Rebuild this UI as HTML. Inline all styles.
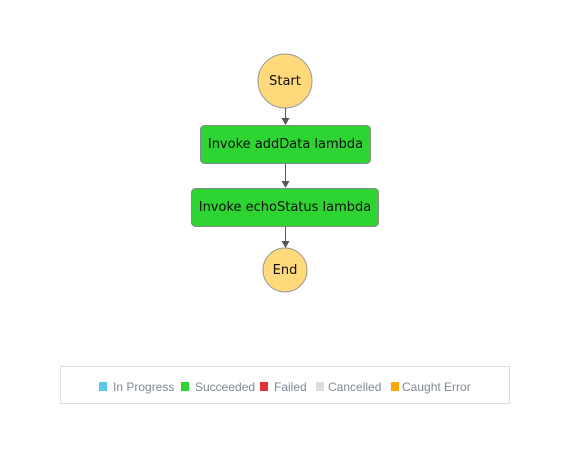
<!DOCTYPE html>
<html><head><meta charset="utf-8"><style>
body{margin:0;width:577px;height:460px;background:#fff;position:relative;overflow:hidden;font-family:"DejaVu Sans","Liberation Sans",sans-serif}
.a{position:absolute}
.t{font-size:13px;color:#111;text-align:center;white-space:nowrap}
.l{position:absolute;color:#7f8a96;top:380px;white-space:nowrap;font-family:"Liberation Sans",sans-serif;font-size:12px}
.s{position:absolute;width:8px;height:9px;top:382px}
</style></head><body>
<svg class="a" style="left:0;top:0" width="577" height="460">
<circle cx="285" cy="81" r="27" fill="#ffd97a" stroke="#999" stroke-width="1"/>
<circle cx="285" cy="270" r="22" fill="#ffd97a" stroke="#999" stroke-width="1"/>
<rect x="200.5" y="125.5" width="170" height="38" rx="4" fill="#2dd432" stroke="#888"/>
<rect x="191.5" y="188.5" width="187" height="38" rx="4" fill="#2dd432" stroke="#888"/>
<g stroke="#555" stroke-width="1">
<line x1="285.5" y1="108" x2="285.5" y2="119"/>
<line x1="285.5" y1="164" x2="285.5" y2="182"/>
<line x1="285.5" y1="227" x2="285.5" y2="242"/>
</g>
<g fill="#555">
<path d="M281.5,118 L289.5,118 L285.5,125z"/>
<path d="M281.5,181 L289.5,181 L285.5,188z"/>
<path d="M281.5,241 L289.5,241 L285.5,248z"/>
</g>
<rect x="60.5" y="366.5" width="449" height="37" fill="#fff" stroke="#ddd"/>
</svg>
<div class="a t" style="left:258px;top:74px;width:54px">Start</div>
<div class="a t" style="left:200px;top:137px;width:171px">Invoke addData lambda</div>
<div class="a t" style="left:191px;top:200px;width:188px">Invoke echoStatus lambda</div>
<div class="a t" style="left:263px;top:263px;width:44px">End</div>
<div class="s" style="left:99px;background:#5bc8ec"></div><div class="l" style="left:113px">In Progress</div>
<div class="s" style="left:181px;background:#2dd432"></div><div class="l" style="left:195px">Succeeded</div>
<div class="s" style="left:260px;background:#e03232"></div><div class="l" style="left:274px">Failed</div>
<div class="s" style="left:316px;background:#dcdcdc"></div><div class="l" style="left:328px">Cancelled</div>
<div class="s" style="left:391px;background:#ffa500"></div><div class="l" style="left:402px">Caught Error</div>
</body></html>
